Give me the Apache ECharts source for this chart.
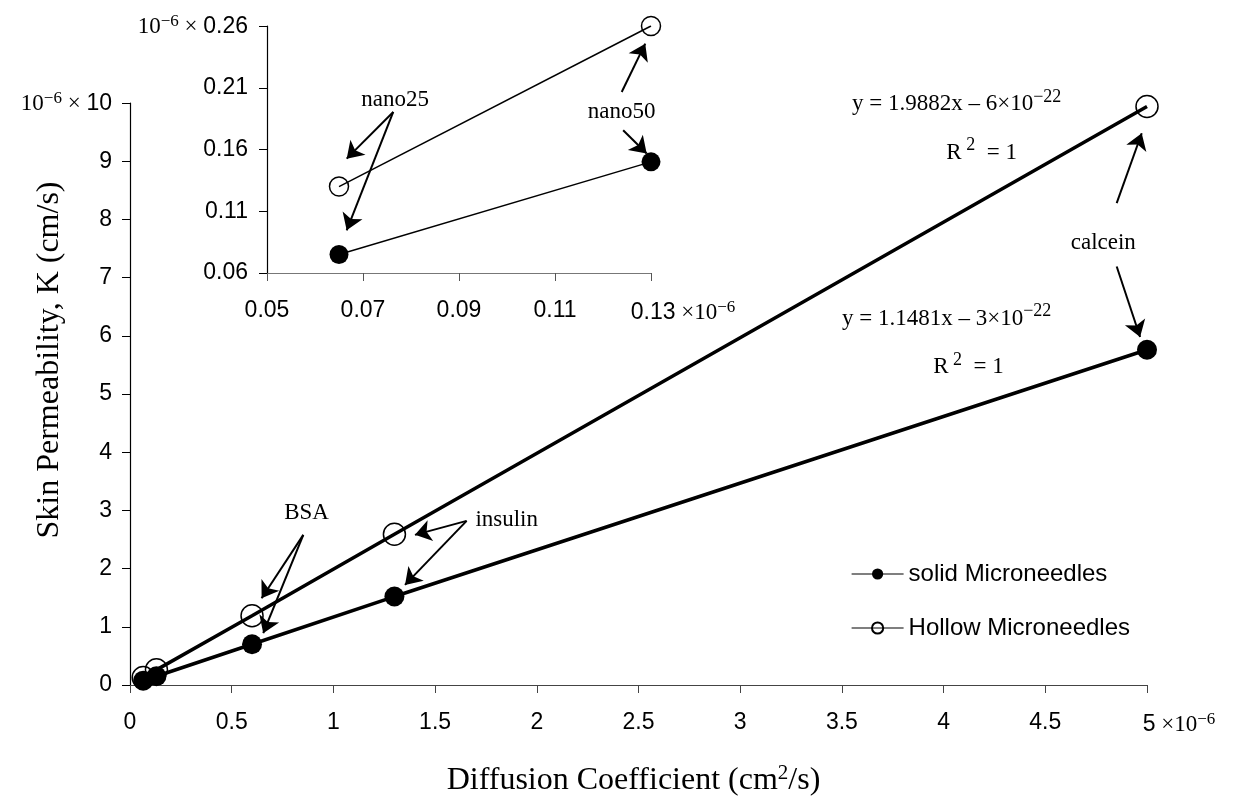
<!DOCTYPE html>
<html>
<head>
<meta charset="utf-8">
<script src="https://cdn.jsdelivr.net/npm/echarts@6/dist/echarts.min.js"></script>
<style>
  html, body { margin: 0; background: #fff; }
  #chart { width: 1238px; height: 800px; }
</style>
</head>
<body>
<div id="chart"></div>
<script>
// values in units of 1e-6
var diffusion = [0.065, 0.13, 0.6, 1.3, 5];
var solidK = [0.075, 0.15, 0.70, 1.52, 5.76];
var hollowK = [0.13, 0.26, 1.19, 2.59, 9.94];
var insetCount = 2; // nano25, nano50 shown again in the inset
var insetXTicks = [0.05, 0.07, 0.09, 0.11, 0.13];
var insetYTicks = [0.06, 0.11, 0.16, 0.21, 0.26];

// arrows: [from, to] in data units
var mainArrows = [
  [[0.852, 2.58], [0.647, 1.49]],
  [[0.852, 2.58], [0.655, 0.89]],
  [[1.655, 2.82], [1.401, 2.58]],
  [[1.655, 2.82], [1.352, 1.72]],
  [[4.851, 8.28], [4.974, 9.48]],
  [[4.851, 7.19], [4.966, 5.98]]
];
var insetArrows = [
  [[0.0763, 0.1904], [0.0666, 0.1526]],
  [[0.0763, 0.1904], [0.0666, 0.0946]],
  [[0.1239, 0.2066], [0.1288, 0.2457]],
  [[0.1242, 0.1756], [0.1291, 0.1567]]
];
var notes = [
  { grid: 0, at: [0.868, 2.95], text: '{b|BSA}' },
  { grid: 0, at: [1.852, 2.84], text: '{b|insulin}' },
  { grid: 0, at: [4.785, 7.59], text: '{b|calcein}' },
  { grid: 0, at: [4.064, 10.02], text: '{b|y = 1.9882x \u2013 6\u00d710}{sup|\u221222}' },
  { grid: 0, at: [4.187, 9.19], text: '{b|R}{sup| 2}{b|  = 1}' },
  { grid: 0, at: [4.015, 6.33], text: '{b|y = 1.1481x \u2013 3\u00d710}{sup|\u221222}' },
  { grid: 0, at: [4.122, 5.50], text: '{b|R}{sup| 2}{b|  = 1}' },
  { grid: 1, at: [0.0767, 0.1998], text: '{b|nano25}' },
  { grid: 1, at: [0.1239, 0.1904], text: '{b|nano50}' }
];

var SANS = "'Liberation Sans', Arial, sans-serif";
var SERIF = "'Liberation Serif', 'Times New Roman', serif";

function pairs(xs, ys) {
  return xs.map(function (x, i) { return [x, ys[i]]; });
}
function arrowLines(list) {
  return list.map(function (a) { return [{ coord: a[0] }, { coord: a[1] }]; });
}

var labelRich = {
  n: { fontFamily: SANS, fontSize: 23, color: '#000', verticalAlign: 'bottom' },
  e: { fontFamily: SERIF, fontSize: 23, color: '#000', verticalAlign: 'bottom' },
  sup: { fontFamily: SERIF, fontSize: 17, color: '#000', verticalAlign: 'bottom', padding: [0, 0, 8, 0] },
  pad: { width: 64, verticalAlign: 'bottom' }
};

var chart = echarts.init(document.getElementById('chart'));
chart.setOption({
  animation: false,
  backgroundColor: '#fff',
  grid: [
    { left: 130, top: 103, width: 1017, height: 582, outerBoundsMode: 'none', containLabel: false },
    { left: 267, top: 26, width: 384, height: 247, outerBoundsMode: 'none', containLabel: false }
  ],
  legend: {
    data: ['solid Microneedles', 'Hollow Microneedles'],
    orient: 'vertical',
    left: 846,
    top: 557,
    itemGap: 30,
    itemWidth: 52,
    itemHeight: 14,
    lineStyle: { width: 1.2 },
    textStyle: { fontFamily: SANS, fontSize: 24, color: '#000' }
  },
  xAxis: [
    {
      type: 'value', gridIndex: 0, min: 0, max: 5, interval: 0.5,
      name: '{t|Diffusion Coefficient (cm}{s|2}{t|/s)}',
      nameLocation: 'middle', nameGap: 78, nameMoveOverlap: false,
      nameTextStyle: {
        fontFamily: SERIF, fontSize: 32, color: '#000', padding: [0, 10, 0, 0],
        rich: {
          t: { fontFamily: SERIF, fontSize: 32, color: '#000', verticalAlign: 'bottom' },
          s: { fontFamily: SERIF, fontSize: 21, color: '#000', verticalAlign: 'bottom', padding: [0, 0, 13, 0] }
        }
      },
      axisLine: { lineStyle: { color: '#444', width: 1.2 } },
      axisTick: { length: 8, lineStyle: { color: '#444' } },
      splitLine: { show: false },
      axisLabel: {
        margin: 26, color: '#000', fontFamily: SANS, fontSize: 23, rich: labelRich,
        formatter: function (v) {
          return v === 5 ? '{pad|}{n|5}{e| \u00d710}{sup|\u22126}' : '{n|' + v + '}';
        }
      }
    },
    {
      type: 'value', gridIndex: 1, min: 0.05, max: 0.13,
      axisLine: { lineStyle: { color: '#777', width: 1.2 } },
      axisTick: { length: 8, lineStyle: { color: '#555' }, customValues: insetXTicks },
      splitLine: { show: false },
      axisLabel: {
        margin: 26, color: '#000', fontFamily: SANS, fontSize: 23, rich: labelRich,
        customValues: insetXTicks,
        formatter: function (v) {
          var s = v.toFixed(2);
          return v > 0.129 ? '{pad|}{n|' + s + '}{e| \u00d710}{sup|\u22126}' : '{n|' + s + '}';
        }
      }
    }
  ],
  yAxis: [
    {
      type: 'value', gridIndex: 0, min: 0, max: 10, interval: 1,
      name: '{pad|}{t|Skin Permeability, K (cm/s)}',
      nameLocation: 'middle', nameGap: 64, nameMoveOverlap: false,
      nameTextStyle: {
        fontFamily: SERIF, fontSize: 32, color: '#000',
        rich: {
          pad: { width: 68 },
          t: { fontFamily: SERIF, fontSize: 32, color: '#000' }
        }
      },
      axisLine: { show: true, lineStyle: { color: '#000', width: 1.2 } },
      axisTick: { show: true, length: 8, lineStyle: { color: '#000' } },
      splitLine: { show: false },
      axisLabel: {
        margin: 18, color: '#000', fontFamily: SANS, fontSize: 23, rich: labelRich,
        formatter: function (v) {
          return v === 10 ? '{e|10}{sup|\u22126}{e| \u00d7 }{n|10}' : '{n|' + v + '}';
        }
      }
    },
    {
      type: 'value', gridIndex: 1, min: 0.06, max: 0.26,
      axisLine: { show: true, lineStyle: { color: '#000', width: 1.2 } },
      axisTick: { show: true, length: 8, lineStyle: { color: '#000' }, customValues: insetYTicks },
      splitLine: { show: false },
      axisLabel: {
        margin: 19, color: '#000', fontFamily: SANS, fontSize: 23, rich: labelRich,
        customValues: insetYTicks,
        formatter: function (v) {
          var s = v.toFixed(2);
          return v > 0.259 ? '{e|10}{sup|\u22126}{e| \u00d7 }{n|' + s + '}' : '{n|' + s + '}';
        }
      }
    }
  ],
  series: [
    {
      name: 'solid Microneedles', type: 'line', xAxisIndex: 0, yAxisIndex: 0,
      data: pairs(diffusion, solidK),
      symbol: 'circle', symbolSize: 20,
      lineStyle: { color: '#000', width: 3.5 },
      itemStyle: { color: '#000' },
      markLine: {
        silent: true, symbol: ['none', 'arrow'], symbolSize: 16,
        label: { show: false },
        lineStyle: { color: '#000', width: 2, type: 'solid' },
        data: arrowLines(mainArrows)
      }
    },
    {
      name: 'Hollow Microneedles', type: 'line', xAxisIndex: 0, yAxisIndex: 0,
      data: pairs(diffusion, hollowK),
      symbol: 'circle', symbolSize: 22,
      lineStyle: { color: '#000', width: 3.5 },
      itemStyle: { color: 'rgba(255,255,255,0)', borderColor: '#000', borderWidth: 1.5 }
    },
    {
      name: 'inset solid', type: 'line', xAxisIndex: 1, yAxisIndex: 1,
      data: pairs(diffusion.slice(0, insetCount), solidK.slice(0, insetCount)),
      symbol: 'circle', symbolSize: 19,
      lineStyle: { color: '#000', width: 1.5 },
      itemStyle: { color: '#000' },
      markLine: {
        silent: true, symbol: ['none', 'arrow'], symbolSize: 16,
        label: { show: false },
        lineStyle: { color: '#000', width: 2, type: 'solid' },
        data: arrowLines(insetArrows)
      }
    },
    {
      name: 'inset hollow', type: 'line', xAxisIndex: 1, yAxisIndex: 1,
      data: pairs(diffusion.slice(0, insetCount), hollowK.slice(0, insetCount)),
      symbol: 'circle', symbolSize: 19,
      lineStyle: { color: '#000', width: 1.5 },
      itemStyle: { color: 'rgba(255,255,255,0)', borderColor: '#000', borderWidth: 1.5 }
    }
  ]
});

// text notes placed at data positions
chart.setOption({
  graphic: notes.map(function (n) {
    var p = chart.convertToPixel({ gridIndex: n.grid }, n.at);
    return {
      type: 'text', x: p[0], y: p[1], z: 100,
      style: {
        text: n.text, fill: '#000', fontFamily: SERIF, fontSize: 23,
        align: 'center', verticalAlign: 'middle',
        rich: {
          b: { fontFamily: SERIF, fontSize: 23, fill: '#000', verticalAlign: 'bottom' },
          sup: { fontFamily: SERIF, fontSize: 18, fill: '#000', verticalAlign: 'bottom', padding: [0, 0, 10, 0] }
        }
      }
    };
  })
});
window.addEventListener('resize', function () { chart.resize(); });
</script>
</body>
</html>
